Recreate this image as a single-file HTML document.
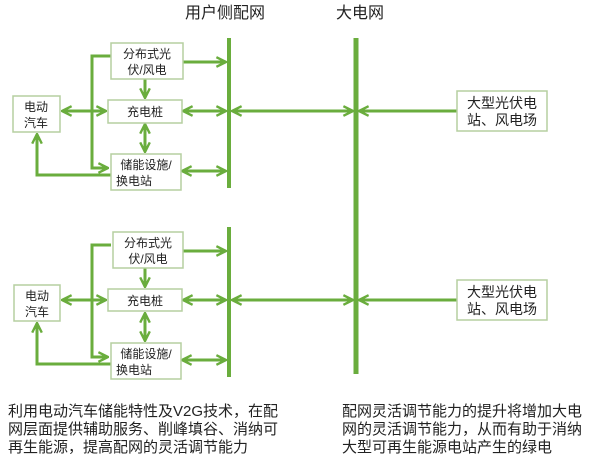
<!DOCTYPE html>
<html><head><meta charset="utf-8"><style>
html,body{margin:0;padding:0;background:#fff;}
body{width:600px;height:462px;overflow:hidden;position:relative;font-family:"Liberation Sans","Noto Sans CJK SC",sans-serif;}
svg{position:absolute;left:0;top:0;}
.t{position:absolute;font-size:15px;line-height:18px;color:#222;white-space:nowrap;}
</style></head><body>
<svg width="600" height="462" viewBox="0 0 600 462">
<defs>
<marker id="a" viewBox="0 0 10 10" refX="9" refY="5" markerWidth="4" markerHeight="4" orient="auto-start-reverse" markerUnits="strokeWidth">
<path d="M1,1 L9,5 L1,9" fill="none" stroke="#6aad3d" stroke-width="2"/>
</marker>
</defs>
<g font-family="Liberation Sans, Noto Sans CJK SC, sans-serif" fill="#222">
<text x="185" y="18" font-size="16">用户侧配网</text>
<text x="336" y="18" font-size="16">大电网</text>
</g>
<g stroke="#6aad3d" fill="none">
<line x1="356" y1="38" x2="356" y2="374" stroke-width="5"/>
<g id="blk">
<line x1="229" y1="38" x2="229" y2="188" stroke-width="4"/>
<line x1="183" y1="62" x2="226" y2="62" stroke-width="3" marker-end="url(#a)"/>
<line x1="183" y1="111" x2="226" y2="111" stroke-width="3" marker-start="url(#a)" marker-end="url(#a)"/>
<line x1="182" y1="171" x2="226" y2="171" stroke-width="3" marker-start="url(#a)" marker-end="url(#a)"/>
<line x1="232" y1="111" x2="353" y2="111" stroke-width="3" marker-start="url(#a)" marker-end="url(#a)"/>
<line x1="457" y1="111" x2="359" y2="111" stroke-width="3" marker-end="url(#a)"/>
<polyline points="111,56 92,56 92,168 108,168" stroke-width="3" marker-end="url(#a)"/>
<line x1="62" y1="111" x2="106" y2="111" stroke-width="3" marker-start="url(#a)" marker-end="url(#a)"/>
<line x1="145" y1="79" x2="145" y2="98" stroke-width="3" marker-end="url(#a)"/>
<line x1="145" y1="124" x2="145" y2="152" stroke-width="3" marker-start="url(#a)" marker-end="url(#a)"/>
<polyline points="111,175 37,175 37,134" stroke-width="3" marker-end="url(#a)"/>
</g>
<use href="#blk" transform="translate(0,189)"/>
</g>
<g fill="#fff" stroke="#b5cfa0" stroke-width="1.5">
<rect x="111" y="43" width="72" height="36"/>
<rect x="108" y="100" width="74" height="23"/>
<rect x="111" y="154" width="70" height="36"/>
<rect x="13" y="96" width="47" height="36"/>
<rect x="457" y="91" width="90" height="40"/>
<rect x="113" y="232" width="70" height="36"/>
<rect x="108" y="289" width="74" height="22"/>
<rect x="111" y="343" width="70" height="36"/>
<rect x="14" y="285" width="46" height="36"/>
<rect x="457" y="280" width="90" height="40"/>
</g>
<g font-family="Liberation Sans, Noto Sans CJK SC, sans-serif" fill="#222" font-size="12" text-anchor="middle">
<text x="147" y="58">分布式光</text><text x="147" y="74">伏/风电</text>
<text x="145" y="116">充电桩</text>
<text x="146" y="169">储能设施/</text><text x="134" y="185">换电站</text>
<text x="36" y="111">电动</text><text x="36" y="127">汽车</text>
<text x="502" y="108" font-size="14">大型光伏电</text><text x="502" y="125" font-size="14">站、风电场</text>
<text x="148" y="247">分布式光</text><text x="148" y="263">伏/风电</text>
<text x="145" y="305">充电桩</text>
<text x="146" y="358">储能设施/</text><text x="134" y="374">换电站</text>
<text x="37" y="300">电动</text><text x="37" y="316">汽车</text>
<text x="502" y="297" font-size="14">大型光伏电</text><text x="502" y="314" font-size="14">站、风电场</text>
</g>
</svg>
<div class="t" style="left:8px;top:403px;">利用电动汽车储能特性及V2G技术，在配<br>网层面提供辅助服务、削峰填谷、消纳可<br>再生能源，提高配网的灵活调节能力</div>
<div class="t" style="left:342px;top:403px;">配网灵活调节能力的提升将增加大电<br>网的灵活调节能力，从而有助于消纳<br>大型可再生能源电站产生的绿电</div>
</body></html>
